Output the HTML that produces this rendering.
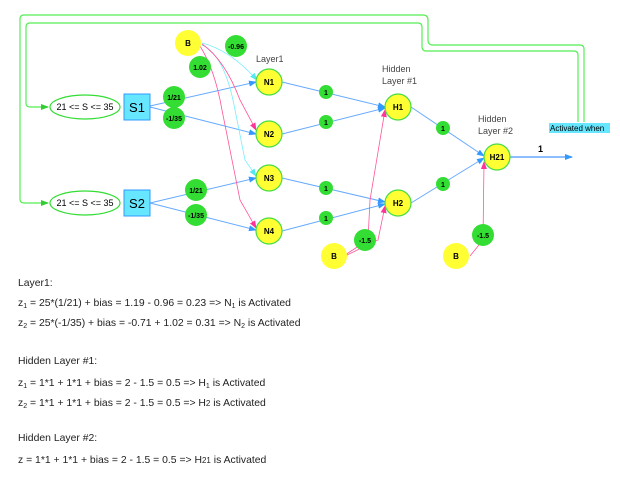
<!DOCTYPE html>
<html><head><meta charset="utf-8"><style>
body{margin:0;background:#fff;width:620px;height:480px;overflow:hidden;font-family:"Liberation Sans",sans-serif}
</style></head><body>
<svg width="620" height="480" xmlns="http://www.w3.org/2000/svg" font-family="Liberation Sans, sans-serif">
<defs>
<marker id="ab" markerWidth="8" markerHeight="8" refX="7" refY="4" orient="auto" markerUnits="userSpaceOnUse"><path d="M0,1 L8,4 L0,7 z" fill="#3399ff"/></marker>
<marker id="ac" markerWidth="8" markerHeight="8" refX="7" refY="4" orient="auto" markerUnits="userSpaceOnUse"><path d="M0,1 L8,4 L0,7 z" fill="#55e8f0"/></marker>
<marker id="ap" markerWidth="8" markerHeight="8" refX="7" refY="4" orient="auto" markerUnits="userSpaceOnUse"><path d="M0,1 L8,4 L0,7 z" fill="#ff3399"/></marker>
<marker id="ag" markerWidth="8" markerHeight="8" refX="7" refY="4" orient="auto" markerUnits="userSpaceOnUse"><path d="M0,1 L8,4 L0,7 z" fill="#33cc33"/></marker>
</defs>
<g fill="none" stroke="#55ee55" stroke-width="1.2">
<path d="M584,122 V49 Q584,45 580,45 H433 Q428,45 428,40 V20 Q428,15 423,15 H24 Q20,15 20,19 V199 Q20,203 24,203 H48" marker-end="url(#ag)"/>
<path d="M578,122 V55 Q578,51 574,51 H426 Q422,51 422,46 V27 Q422,23 418,23 H30 Q26,23 26,27 V103 Q26,107 30,107 H48" marker-end="url(#ag)"/>
</g>
<g fill="none" stroke="#66aaff" stroke-width="1">
<line x1="150" y1="106" x2="256" y2="82" marker-end="url(#ab)"/>
<line x1="150" y1="107" x2="256" y2="134" marker-end="url(#ab)"/>
<line x1="150" y1="203" x2="256" y2="178" marker-end="url(#ab)"/>
<line x1="150" y1="203" x2="256" y2="230" marker-end="url(#ab)"/>
<line x1="282" y1="82" x2="385" y2="107" marker-end="url(#ab)"/>
<line x1="282" y1="134" x2="385" y2="108" marker-end="url(#ab)"/>
<line x1="282" y1="178" x2="385" y2="202" marker-end="url(#ab)"/>
<line x1="282" y1="231" x2="385" y2="204" marker-end="url(#ab)"/>
<line x1="411" y1="107" x2="484" y2="156" marker-end="url(#ab)"/>
<line x1="411" y1="203" x2="484" y2="158" marker-end="url(#ab)"/>
<line x1="510" y1="157" x2="572" y2="157" marker-end="url(#ab)" stroke-width="1.5"/>
</g>
<g fill="none" stroke="#77eeff" stroke-width="0.8">
<path d="M202,43 Q230,50 257,80" marker-end="url(#ac)"/>
<path d="M202,45 Q225,55 235,110 L245,160 L256,176" marker-end="url(#ac)"/>
</g>
<g fill="none" stroke="#ff5599" stroke-width="0.8">
<path d="M202,44 Q225,60 240,100 L256,130" marker-end="url(#ap)"/>
<path d="M200,46 Q215,70 222,110 L240,200 L256,228" marker-end="url(#ap)"/>
<path d="M345,255 L368,240 L370,200 L385,110" marker-end="url(#ap)"/>
<path d="M345,256 L378,240 L385,206" marker-end="url(#ap)"/>
<path d="M470,256 L483,240 L484,162" marker-end="url(#ap)"/>
</g>
<g stroke="#33dd33" stroke-width="1.2" fill="#fff">
<ellipse cx="85" cy="107" rx="35" ry="12"/>
<ellipse cx="85" cy="203" rx="35" ry="12"/>
</g>
<g font-size="9" text-anchor="middle" fill="#000">
<text x="85" y="110">21 &lt;= S &lt;= 35</text>
<text x="85" y="206">21 &lt;= S &lt;= 35</text>
</g>
<rect x="124" y="94" width="26" height="26" fill="#66e6ff" stroke="#3399ff"/>
<rect x="124" y="190" width="26" height="26" fill="#66e6ff" stroke="#3399ff"/>
<text x="137" y="112" font-size="13" text-anchor="middle">S1</text>
<text x="137" y="208" font-size="13" text-anchor="middle">S2</text>
<g fill="#ffff33" stroke="#44dd44" stroke-width="1.2">
<circle cx="269" cy="82" r="13"/><circle cx="269" cy="134" r="13"/>
<circle cx="269" cy="178" r="13"/><circle cx="269" cy="231" r="13"/>
<circle cx="398" cy="107" r="13"/><circle cx="398" cy="203" r="13"/>
<circle cx="497" cy="157" r="13"/>
</g>
<g fill="#ffff33">
<circle cx="188" cy="43" r="13"/><circle cx="334" cy="256" r="13"/><circle cx="456" cy="256" r="13"/>
</g>
<g fill="#33dd33">
<circle cx="236" cy="46" r="11"/><circle cx="200" cy="67" r="11"/>
<circle cx="174" cy="97" r="11"/><circle cx="174" cy="118" r="11"/>
<circle cx="196" cy="190" r="11"/><circle cx="196" cy="215" r="11"/>
<circle cx="365" cy="240" r="11"/><circle cx="483" cy="235" r="11"/>
<circle cx="326" cy="92" r="7"/><circle cx="326" cy="122" r="7"/>
<circle cx="326" cy="188" r="7"/><circle cx="326" cy="218" r="7"/>
<circle cx="443" cy="128" r="7"/><circle cx="443" cy="184" r="7"/>
</g>
<g font-size="8" font-weight="bold" text-anchor="middle" fill="#000">
<text x="269" y="85">N1</text><text x="269" y="137">N2</text>
<text x="269" y="181">N3</text><text x="269" y="234">N4</text>
<text x="398" y="110">H1</text><text x="398" y="206">H2</text>
<text x="497" y="160">H21</text>
<text x="188" y="46">B</text><text x="334" y="259">B</text><text x="456" y="259">B</text>
<text x="236" y="49" font-size="7">-0.96</text><text x="200" y="70" font-size="7">1.02</text>
<text x="174" y="100" font-size="7">1/21</text><text x="174" y="121" font-size="7">-1/35</text>
<text x="196" y="193" font-size="7">1/21</text><text x="196" y="218" font-size="7">-1/35</text>
<text x="365" y="243" font-size="7">-1.5</text><text x="483" y="238" font-size="7">-1.5</text>
<text x="326" y="95" font-size="7">1</text><text x="326" y="125" font-size="7">1</text>
<text x="326" y="191" font-size="7">1</text><text x="326" y="221" font-size="7">1</text>
<text x="443" y="131" font-size="7">1</text><text x="443" y="187" font-size="7">1</text>
</g>
<g font-size="9" fill="#444">
<text x="256" y="62">Layer1</text>
<text x="382" y="72">Hidden</text><text x="382" y="84">Layer #1</text>
<text x="478" y="122">Hidden</text><text x="478" y="134">Layer #2</text>
</g>
<text x="538" y="152" font-size="9" font-weight="bold">1</text>
<rect x="549" y="123" width="61" height="10" fill="#66e6ff"/>
<text x="550" y="131" font-size="8">Activated when</text>
<g font-size="10.4" fill="#222">
<text x="18" y="286">Layer1:</text>
<text x="18" y="306">z<tspan font-size="7" dy="2">1</tspan><tspan dy="-2"> = 25*(1/21) + bias = 1.19 - 0.96 = 0.23 =&gt; N</tspan><tspan font-size="7" dy="2">1</tspan><tspan dy="-2"> is Activated</tspan></text>
<text x="18" y="326">z<tspan font-size="7" dy="2">2</tspan><tspan dy="-2"> = 25*(-1/35) + bias = -0.71 + 1.02 = 0.31 =&gt; N</tspan><tspan font-size="7" dy="2">2</tspan><tspan dy="-2"> is Activated</tspan></text>
<text x="18" y="364">Hidden Layer #1:</text>
<text x="18" y="386">z<tspan font-size="7" dy="2">1</tspan><tspan dy="-2"> = 1*1 + 1*1 + bias = 2 - 1.5 = 0.5 =&gt; H</tspan><tspan font-size="7" dy="2">1</tspan><tspan dy="-2"> is Activated</tspan></text>
<text x="18" y="406">z<tspan font-size="7" dy="2">2</tspan><tspan dy="-2"> = 1*1 + 1*1 + bias = 2 - 1.5 = 0.5 =&gt; H</tspan><tspan font-size="8">2</tspan><tspan> is Activated</tspan></text>
<text x="18" y="441">Hidden Layer #2:</text>
<text x="18" y="463">z = 1*1 + 1*1 + bias = 2 - 1.5 = 0.5 =&gt; H<tspan font-size="8">21</tspan> is Activated</text>
</g>
</svg>
</body></html>
